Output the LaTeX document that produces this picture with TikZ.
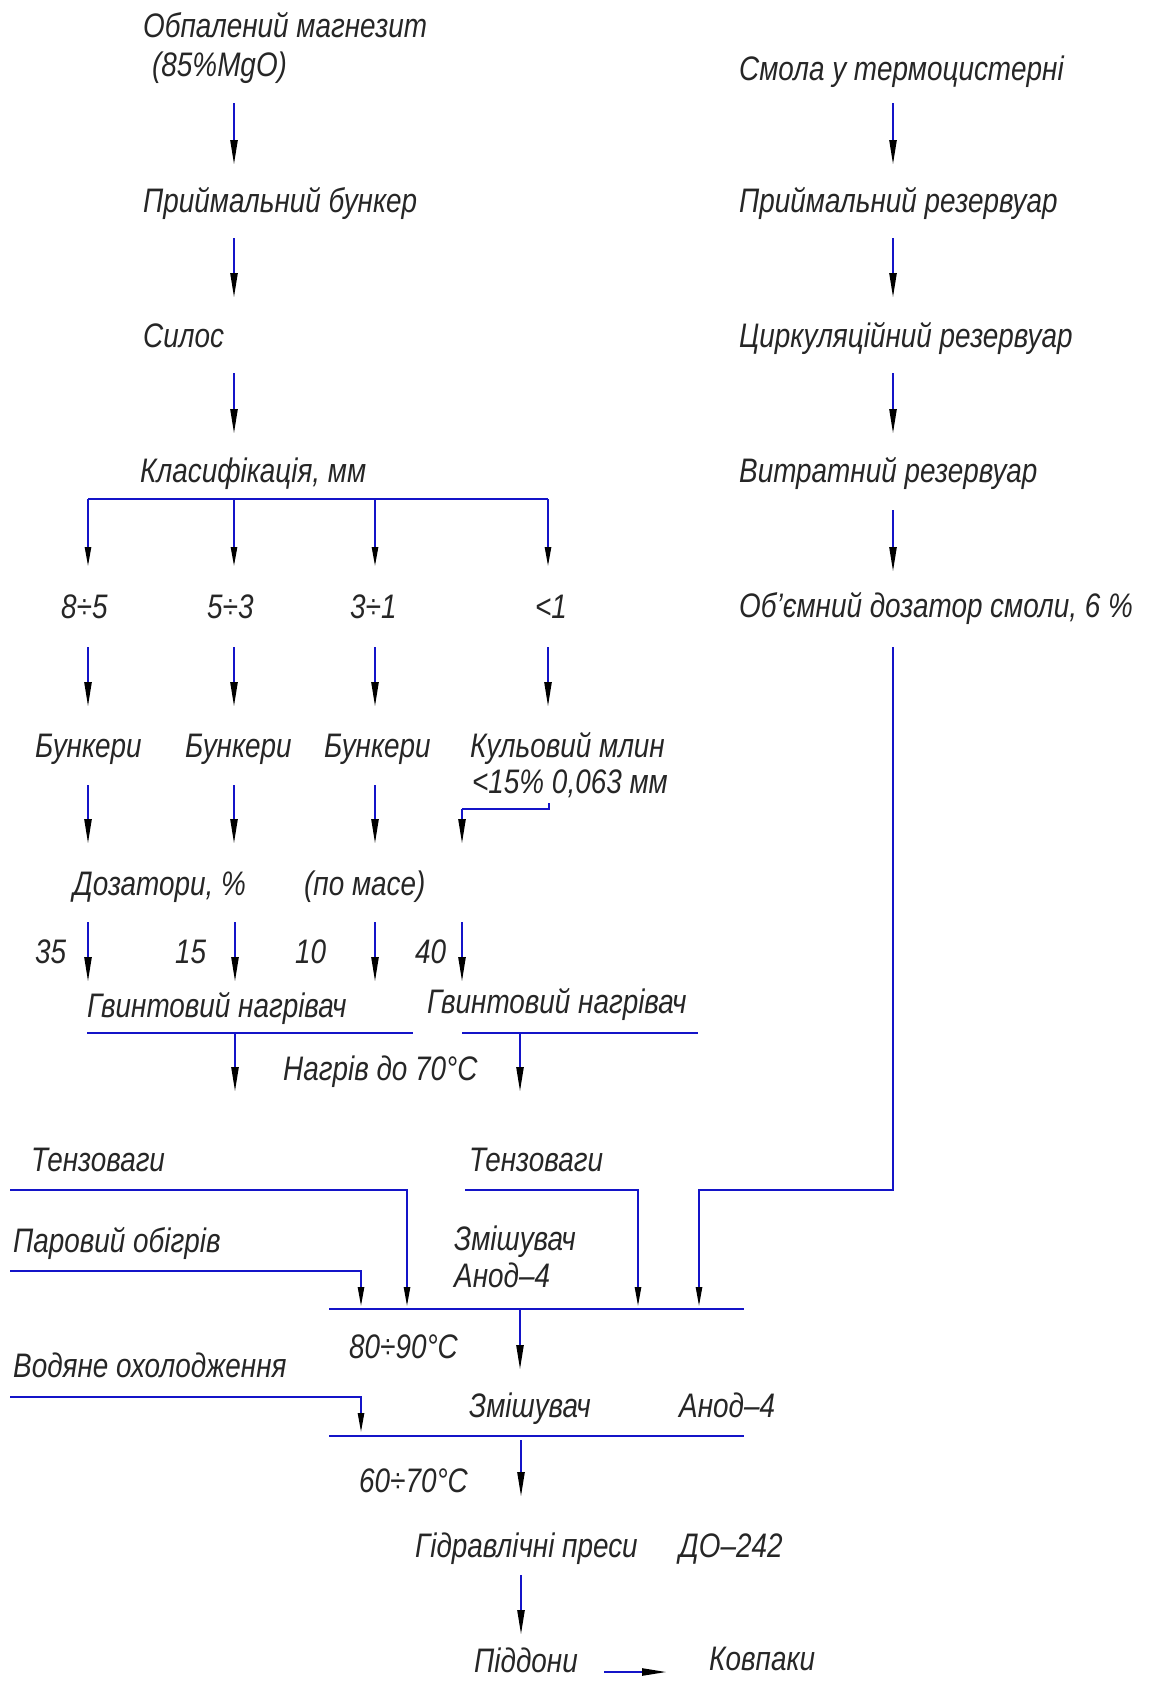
\documentclass[tikz,border=0pt]{standalone}
\usepackage{fontspec}
\newfontfamily\gost{Liberation Sans}[FakeStretch=0.82]
\usetikzlibrary{arrows.meta}
\definecolor{lineblue}{RGB}{20,20,200}
\tikzset{
  flow/.style={draw=lineblue, line width=2.4pt},
  arr/.style={flow, -{Triangle[length=25pt,width=7pt,color=black]}},
  sarr/.style={flow, -{Triangle[length=20pt,width=6pt,color=black]}},
  lbl/.style={anchor=base west, inner sep=0pt, text=black!85,
    font=\gost\itshape\fontsize{34}{38}\selectfont},
}
\begin{document}
\begin{tikzpicture}[x=1pt,y=-1pt]
\useasboundingbox[fill=white] (0,0) rectangle (1160,1681);

% ---------- labels: magnesite branch ----------
\node[lbl] (m1) at (143,37) {Обпалений магнезит};
\node[lbl] (m2) at (152,76) {(85\%MgO)};
\node[lbl] (m3) at (143,212) {Приймальний бункер};
\node[lbl] (m4) at (143,347) {Силос};
\node[lbl] (m5) at (140,482) {Класифікація, мм};
% ---------- labels: resin branch ----------
\node[lbl] (r1) at (739,80) {Смола у термоцистерні};
\node[lbl] (r2) at (739,212) {Приймальний резервуар};
\node[lbl] (r3) at (739,347) {Циркуляційний резервуар};
\node[lbl] (r4) at (739,482) {Витратний резервуар};
\node[lbl] (r5) at (739,617) {Об’ємний дозатор смоли, 6 \%};
% ---------- fractions ----------
\node[lbl] (f1) at (61,618) {8÷5};
\node[lbl] (f2) at (207,618) {5÷3};
\node[lbl] (f3) at (350,618) {3÷1};
\node[lbl] (f4) at (535,618) {<1};
\node[lbl] (b1) at (35,757) {Бункери};
\node[lbl] (b2) at (185,757) {Бункери};
\node[lbl] (b3) at (324,757) {Бункери};
\node[lbl] (mill1) at (470,757) {Кульовий млин};
\node[lbl] (mill2) at (472,793) {<15\% 0,063 мм};
\node[lbl] (dz1) at (73,895) {Дозатори, \%};
\node[lbl] (dz2) at (304,895) {(по масе)};
\node[lbl] (p1) at (35,963) {35};
\node[lbl] (p2) at (175,963) {15};
\node[lbl] (p3) at (295,963) {10};
\node[lbl] (p4) at (415,963) {40};
\node[lbl] (h1) at (87,1017) {Гвинтовий нагрівач};
\node[lbl] (h2) at (427,1013) {Гвинтовий нагрівач};
\node[lbl] (ht) at (283,1080) {Нагрів до 70°С};
% ---------- mixing and pressing ----------
\node[lbl] (tz1) at (31,1171) {Тензоваги};
\node[lbl] (tz2) at (469,1171) {Тензоваги};
\node[lbl] (st) at (13,1252) {Паровий обігрів};
\node[lbl] (mx1a) at (454,1250) {Змішувач};
\node[lbl] (mx1b) at (454,1287) {Анод–4};
\node[lbl] (tm1) at (349,1358) {80÷90°С};
\node[lbl] (wc) at (13,1377) {Водяне охолодження};
\node[lbl] (mx2a) at (469,1417) {Змішувач};
\node[lbl] (mx2b) at (679,1417) {Анод–4};
\node[lbl] (tm2) at (359,1492) {60÷70°С};
\node[lbl] (pr1) at (415,1557) {Гідравлічні преси};
\node[lbl] (pr2) at (679,1557) {ДО–242};
\node[lbl] (pd) at (474,1672) {Піддони};
\node[lbl] (kv) at (709,1670) {Ковпаки};

% ---------- connector end points ----------
\foreach \n/\ya/\yb in {1/103/165, 2/238/298, 3/373/434} {
  \coordinate (Ls\n) at (234,\ya); \coordinate (Le\n) at (234,\yb);
  \coordinate (Rs\n) at (893,\ya); \coordinate (Re\n) at (893,\yb);
}
\coordinate (Rs4) at (893,510); \coordinate (Re4) at (893,572);
\coordinate (busL) at (88,499); \coordinate (busR) at (548,499);
\foreach \c/\x in {a/88, b/234, c/375, d/548} {
  \coordinate (bus\c) at (\x,499);  \coordinate (drop\c) at (\x,567);
  \coordinate (g\c) at (\x,647);    \coordinate (h\c) at (\x,707);
}
\foreach \c/\x in {a/88, b/234, c/375} {
  \coordinate (k\c) at (\x,785);  \coordinate (l\c) at (\x,844);
}
\coordinate (mlA) at (549,803); \coordinate (mlB) at (549,809);
\coordinate (mlC) at (462,809); \coordinate (mlD) at (462,844);
\foreach \c/\x in {a/88, b/235, c/375, d/462} {
  \coordinate (q\c) at (\x,922);  \coordinate (w\c) at (\x,982);
}
\coordinate (heL1) at (87,1033);  \coordinate (heL2) at (413,1033);
\coordinate (heR1) at (462,1033); \coordinate (heR2) at (698,1033);
\coordinate (hoL1) at (235,1033); \coordinate (hoL2) at (235,1092);
\coordinate (hoR1) at (520,1033); \coordinate (hoR2) at (520,1092);
\coordinate (tzA) at (10,1190);  \coordinate (tzB) at (407,1190);  \coordinate (tzC) at (407,1307);
\coordinate (tzD) at (465,1190); \coordinate (tzE) at (638,1190);  \coordinate (tzF) at (638,1307);
\coordinate (rsA) at (893,647);  \coordinate (rsB) at (893,1190);
\coordinate (rsC) at (699,1190); \coordinate (rsD) at (699,1307);
\coordinate (stA) at (10,1271);  \coordinate (stB) at (361,1271);  \coordinate (stC) at (361,1307);
\coordinate (mxA) at (329,1309); \coordinate (mxB) at (744,1309);
\coordinate (mxo1) at (520,1309); \coordinate (mxo2) at (520,1370);
\coordinate (wcA) at (10,1397);  \coordinate (wcB) at (361,1397);  \coordinate (wcC) at (361,1433);
\coordinate (myA) at (329,1436); \coordinate (myB) at (744,1436);
\coordinate (myo1) at (521,1440); \coordinate (myo2) at (521,1497);
\coordinate (pro1) at (521,1575); \coordinate (pro2) at (521,1635);
\coordinate (pk1) at (604,1672); \coordinate (pk2) at (667,1672);

% ---------- connectors ----------
\foreach \n in {1,2,3} {
  \draw[arr] (Ls\n) -- (Le\n);
  \draw[arr] (Rs\n) -- (Re\n);
}
\draw[arr] (Rs4) -- (Re4);
\draw[flow] (busL) -- (busR);
\foreach \c in {a,b,c,d} {
  \draw[sarr] (bus\c) -- (drop\c);
  \draw[arr] (g\c) -- (h\c);
}
\foreach \c in {a,b,c} \draw[arr] (k\c) -- (l\c);
\draw[flow] (mlA) -- (mlB) -- (mlC);
\draw[arr] (mlC) -- (mlD);
\foreach \c in {a,b,c,d} \draw[arr] (q\c) -- (w\c);
\draw[flow] (heL1) -- (heL2);
\draw[flow] (heR1) -- (heR2);
\draw[arr] (hoL1) -- (hoL2);
\draw[arr] (hoR1) -- (hoR2);
\draw[sarr] (tzA) -- (tzB) -- (tzC);
\draw[sarr] (tzD) -- (tzE) -- (tzF);
\draw[sarr] (rsA) -- (rsB) -- (rsC) -- (rsD);
\draw[sarr] (stA) -- (stB) -- (stC);
\draw[flow] (mxA) -- (mxB);
\draw[arr] (mxo1) -- (mxo2);
\draw[sarr] (wcA) -- (wcB) -- (wcC);
\draw[flow] (myA) -- (myB);
\draw[arr] (myo1) -- (myo2);
\draw[arr] (pro1) -- (pro2);
\draw[arr] (pk1) -- (pk2);
\end{tikzpicture}
\end{document}
